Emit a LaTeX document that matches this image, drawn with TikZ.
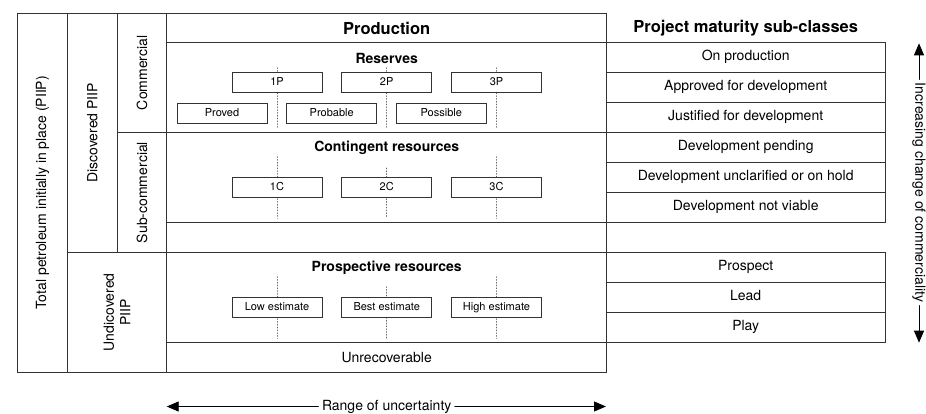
\documentclass[tikz,border=0pt]{standalone}
\usepackage{fontspec}
\setmainfont{TeX Gyre Heros}
\usepackage{tikz}
\usetikzlibrary{arrows.meta}
\usetikzlibrary{positioning}
\tikzset{>={Triangle[length=12pt,width=10pt]},
  grid/.style={line width=0.9pt,black!80},
  title/.style={font=\fontsize{16.5}{18}\selectfont\bfseries},
  subtitle/.style={font=\fontsize{14}{16}\selectfont\bfseries},
  estbox/.style={draw,line width=0.8pt,black!80,text=black,fill=white,minimum width=90pt,
    minimum height=20pt,inner sep=0pt,text height=1.5ex,text depth=.3ex,
    font=\fontsize{11}{13}\selectfont},
  rowcell/.style={draw,line width=0.9pt,black!80,text=black,minimum width=279.3pt,
    minimum height=30pt,inner sep=0pt,text height=1.5ex,text depth=.3ex},
  guide/.style={dotted,line width=0.8pt,black!60}}

\begin{document}
\begin{tikzpicture}[x=1pt,y=-1pt,line cap=round,font=\fontsize{14}{16.5}\selectfont]

  \useasboundingbox (0,0) rectangle (926,413);



  \draw [grid] (17.3,13.3) rectangle (606,372);
  \draw [grid] (67.7,13.3) -- (67.7,372);
  \draw [grid] (117.3,13.3) -- (117.3,252.3);
  \draw [grid] (166.7,13.3) -- (166.7,372);

  \draw [grid] (166.7,42.7) -- (606,42.7);
  \draw [grid] (117.3,132.3) -- (606,132.3);
  \draw [grid] (166.7,222.7) -- (606,222.7);
  \draw [grid] (67.7,252.3) -- (606,252.3);
  \draw [grid] (166.7,342.3) -- (606,342.3);


  \node [rotate=90] (piip) at (42.5,192.7) {Total petroleum initially in place (PIIP)};
  \node [rotate=90] (disc) at (92.5,132.8) {Discovered PIIP};
  \node [rotate=90] (comm) at (142,72.8) {Commercial};
  \node [rotate=90] (subc) at (142,192.5) {Sub-commercial};
  \node [rotate=90,align=center] (undisc) at (117,312.2) {Undicovered\\PIIP};


  \node [title] (prod) at (386.7,28.3) {Production};
  \node [title] (pms) at (745.7,28.3) {Project maturity sub-classes};
  \node [subtitle] (res) at (386.7,58) {Reserves};
  \node [subtitle] (cont) at (386.7,148.3) {Contingent resources};
  \node [subtitle] (prosp) at (386.7,268.3) {Prospective resources};
  \node (unrec) at (386.7,357.3) {Unrecoverable};


  \foreach \xx in {277,386.7,496.5}
    \draw [guide] (\xx,67.7) -- (\xx,127.7);
  \foreach \xx/\yy in {277/156.7,386.7/168,496.5/156.7}
    \draw [guide] (\xx,\yy) -- (\xx,218.3);
  \foreach \xx/\yy in {277/276.7,386.7/286.7,496.5/276.7}
    \draw [guide] (\xx,\yy) -- (\xx,338.3);

  \foreach \lbl/\xx [count=\i] in {1P/277,2P/386.7,3P/496.5}
    \node [estbox] (rp\i) at (\xx,82.7) {\lbl};
  \foreach \lbl/\xx [count=\i] in {Proved/222,Probable/331.7,Possible/441.3}
    \node [estbox] (rq\i) at (\xx,113) {\lbl};
  \foreach \lbl/\xx [count=\i] in {1C/277,2C/386.7,3C/496.5}
    \node [estbox] (cr\i) at (\xx,187.7) {\lbl};
  \foreach \lbl/\xx [count=\i] in {Low estimate/277,Best estimate/386.7,High estimate/496.5}
    \node [estbox] (pr\i) at (\xx,307.5) {\lbl};


  \foreach \txt [count=\i] in {On production,Approved for development,Justified for development,
    Development pending,Development unclarified or on hold,Development not viable}
    \node [rowcell] (mat\i) at (745.7,27.7+30*\i) {\txt};
  \foreach \txt [count=\i] in {Prospect,Lead,Play}
    \node [rowcell] (exp\i) at (745.7,237.3+30*\i) {\txt};


  \node (range) at (386.7,406.5) {Range of uncertainty};
  \coordinate (rangeL) at (166.7,406.5);
  \coordinate (rangeR) at (606,406.5);
  \draw [->,line width=0.9pt] (range.west) -- (rangeL);
  \draw [->,line width=0.9pt] (range.east) -- (rangeR);

  \node [rotate=-90] (incr) at (919,192.5) {Increasing change of commerciality};
  \coordinate (incrT) at (919,43.3);
  \coordinate (incrB) at (919,342.7);
  \draw [->,line width=0.9pt] (incr.west) -- (incrT);
  \draw [->,line width=0.9pt] (incr.east) -- (incrB);



\end{tikzpicture}
\end{document}
